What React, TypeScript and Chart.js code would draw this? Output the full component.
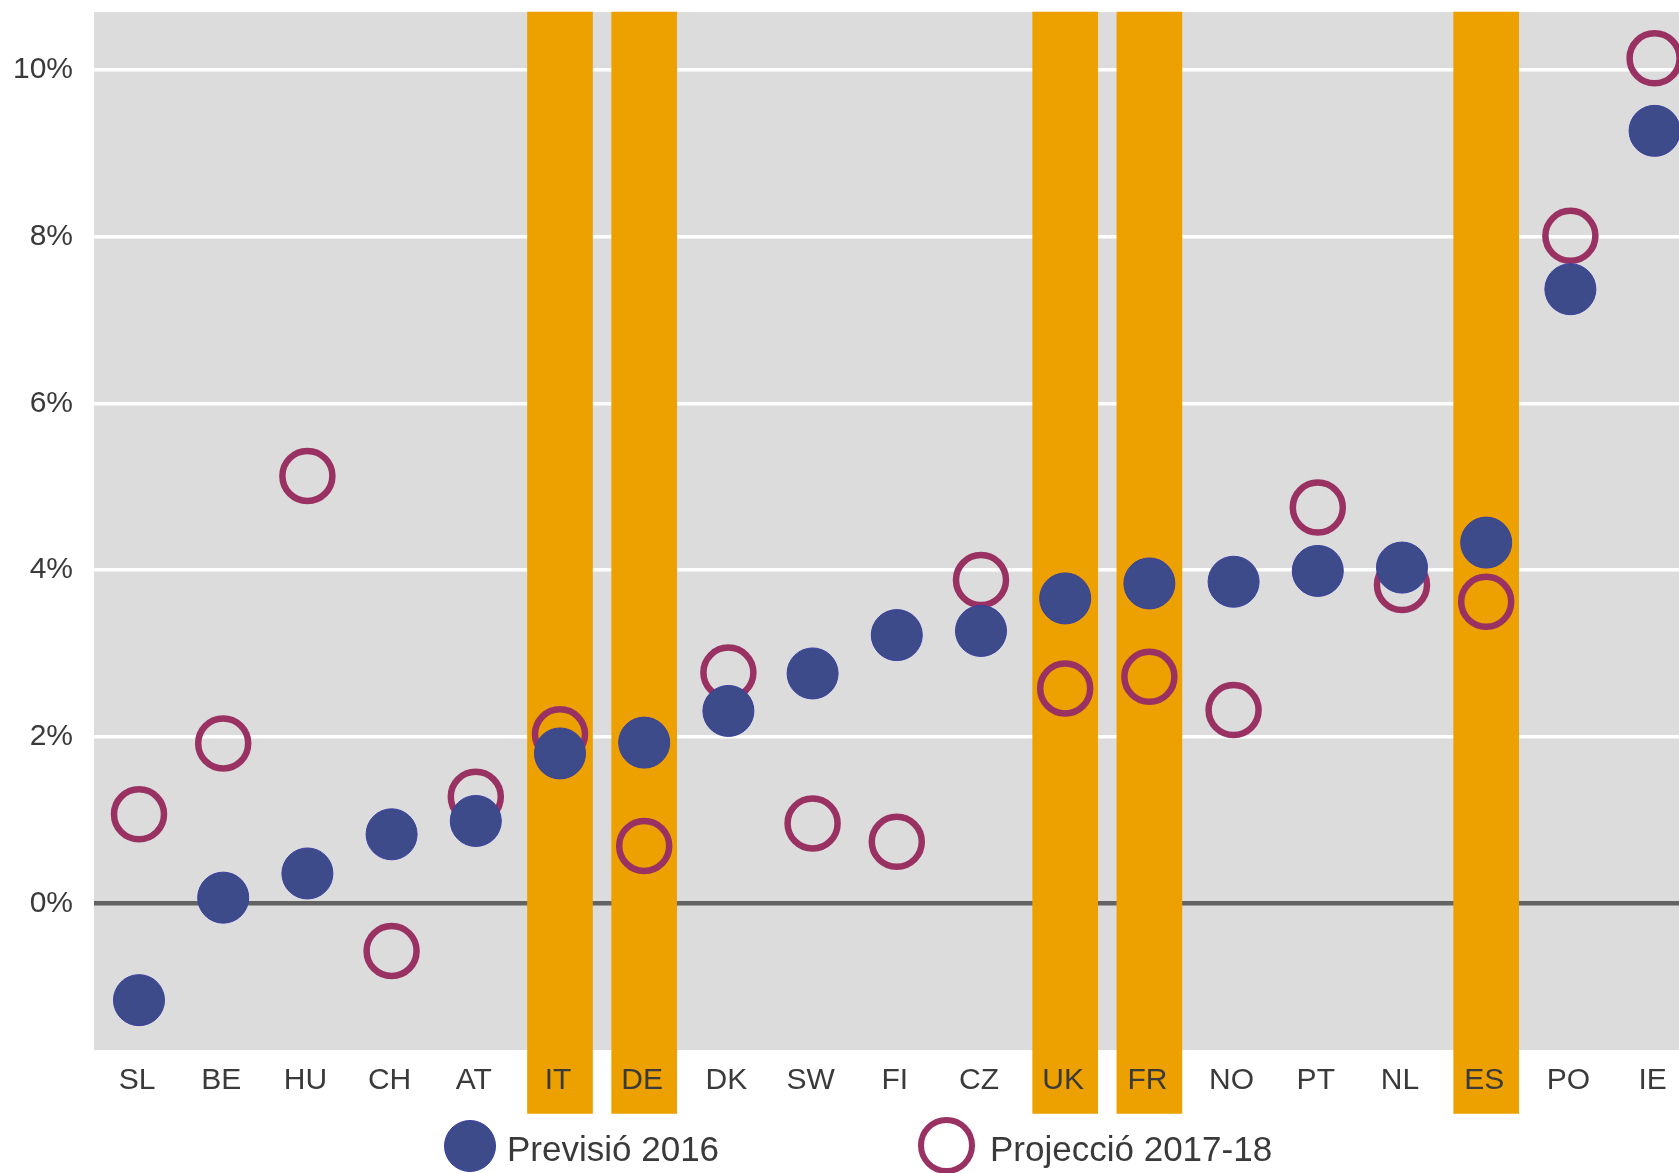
import React, { useEffect, useRef } from "react";
import { Chart, registerables } from "chart.js";

Chart.register(...registerables);

// ---- data ----
const categories = ["SL", "BE", "HU", "CH", "AT", "IT", "DE", "DK", "SW", "FI", "CZ", "UK", "FR", "NO", "PT", "NL", "ES", "PO", "IE"];
const previsio2016 = [-1.16, 0.07, 0.36, 0.83, 0.99, 1.8, 1.93, 2.31, 2.76, 3.22, 3.27, 3.66, 3.84, 3.86, 3.99, 4.03, 4.33, 7.37, 9.27];
const projeccio201718 = [1.07, 1.92, 5.13, -0.57, 1.28, 2.03, 0.69, 2.77, 0.96, 0.74, 3.88, 2.58, 2.72, 2.32, 4.75, 3.82, 3.62, 8.01, 10.14];
const highlighted = ["IT", "DE", "UK", "FR", "ES"];
const yTickValues = [0, 2, 4, 6, 8, 10];
const seriesNames = ["Previsió 2016", "Projecció 2017-18"];

// ---- styles ----
const W = 1679;
const H = 1173;
const FONT = "'Liberation Sans', Arial, sans-serif";
const TEXT = "#3a3a3a";
const BG = "#dcdcdc";
const ORANGE = "#eda100";
const BLUE = "#3d4b8b";
const BLUE_EDGE = "#3a40a0";
const PURPLE = "#9a3163";
const ZERO = "#636363";
const Y_MIN = -1.758;
const Y_MAX = 10.696;
const BAND_LOW = -2.52;
const X_MIN = -0.5344;
const X_MAX = 18.29;

const bgPlugin = {
  id: "plotBg",
  beforeDraw(chart: any) {
    const { ctx, chartArea } = chart;
    ctx.save();
    ctx.fillStyle = BG;
    ctx.fillRect(chartArea.left, chartArea.top, chartArea.right - chartArea.left, chartArea.bottom - chartArea.top);
    ctx.restore();
  },
};

function zeroPad(s: any) {
  s.paddingTop = 0;
  s.paddingBottom = 0;
  s.paddingLeft = 0;
  s.paddingRight = 0;
}

export default function App() {
  const ref = useRef<HTMLCanvasElement | null>(null);

  useEffect(() => {
    document.body.style.margin = "0";
    const canvas = ref.current;
    if (!canvas) return;
    const chart = new Chart(canvas, {
      type: "bar",
      data: {
        datasets: [
          {
            type: "line",
            label: seriesNames[0],
            data: previsio2016.map((v, i) => ({ x: i, y: v })),
            showLine: false,
            pointRadius: 25.5,
            pointHoverRadius: 25.5,
            pointBackgroundColor: BLUE,
            pointBorderColor: BLUE_EDGE,
            pointBorderWidth: 1,
            borderColor: BLUE,
            backgroundColor: BLUE,
            clip: false,
          } as any,
          {
            type: "line",
            label: seriesNames[1],
            data: projeccio201718.map((v, i) => ({ x: i, y: v })),
            showLine: false,
            pointRadius: 25,
            pointHoverRadius: 25,
            pointBackgroundColor: "rgba(0,0,0,0)",
            pointBorderColor: PURPLE,
            pointBorderWidth: 6.5,
            borderColor: PURPLE,
            backgroundColor: "rgba(0,0,0,0)",
            clip: false,
          } as any,
          {
            type: "bar",
            label: "highlight",
            data: highlighted.map((c) => ({ x: categories.indexOf(c), y: [BAND_LOW, Y_MAX] })),
            backgroundColor: ORANGE,
            borderWidth: 0,
            barThickness: 65,
            clip: false,
          } as any,
        ],
      },
      options: {
        animation: false,
        responsive: false,
        devicePixelRatio: 1,
        events: [],
        layout: { autoPadding: false, padding: { top: 12, left: 0, right: 0, bottom: 60 } },
        plugins: { legend: { display: false }, tooltip: { enabled: false } },
        scales: {
          x: {
            type: "linear",
            offset: false,
            min: X_MIN,
            max: X_MAX,
            grid: { display: false, drawTicks: false },
            border: { display: false },
            afterBuildTicks: (s: any) => {
              s.ticks = categories.map((_, i) => ({ value: i }));
            },
            afterFit: (s: any) => {
              s.height = 63;
              zeroPad(s);
            },
            ticks: {
              autoSkip: false,
              maxRotation: 0,
              minRotation: 0,
              padding: 12.5,
              labelOffset: -2,
              z: 1,
              color: TEXT,
              font: { family: FONT, size: 30 },
              callback: (v: any) => categories[Math.round(Number(v))] ?? "",
            },
          },
          y: {
            type: "linear",
            min: Y_MIN,
            max: Y_MAX,
            grid: {
              drawTicks: false,
              color: (c: any) => (c.tick && c.tick.value === 0 ? ZERO : "#ffffff"),
              lineWidth: (c: any) => (c.tick && c.tick.value === 0 ? 4.5 : 3.5),
            },
            border: { display: false },
            afterBuildTicks: (s: any) => {
              s.ticks = yTickValues.map((v) => ({ value: v }));
            },
            afterFit: (s: any) => {
              s.width = 94;
              zeroPad(s);
            },
            ticks: {
              padding: 21,
              color: TEXT,
              font: { family: FONT, size: 30 },
              callback: (v: any) => `${v}%`,
            },
          },
        },
      } as any,
      plugins: [bgPlugin],
    });
    return () => chart.destroy();
  }, []);

  const legendText: React.CSSProperties = {
    position: "absolute",
    top: 1131,
    fontSize: 35,
    lineHeight: "35px",
    color: TEXT,
    whiteSpace: "nowrap",
    fontFamily: FONT,
  };

  return (
    <div style={{ position: "relative", width: W, height: H, overflow: "hidden", background: "#ffffff" }}>
      <canvas ref={ref} width={W} height={H} style={{ position: "absolute", left: 0, top: 0, display: "block" }} />
      <div
        style={{
          position: "absolute",
          left: 444,
          top: 1120,
          width: 52,
          height: 52,
          borderRadius: "50%",
          background: BLUE,
          border: `1px solid ${BLUE_EDGE}`,
          boxSizing: "border-box",
        }}
      />
      <div style={{ ...legendText, left: 507 }}>{seriesNames[0]}</div>
      <div
        style={{
          position: "absolute",
          left: 918,
          top: 1116.5,
          width: 57,
          height: 57,
          borderRadius: "50%",
          border: `6.5px solid ${PURPLE}`,
          boxSizing: "border-box",
        }}
      />
      <div style={{ ...legendText, left: 990 }}>{seriesNames[1]}</div>
    </div>
  );
}
